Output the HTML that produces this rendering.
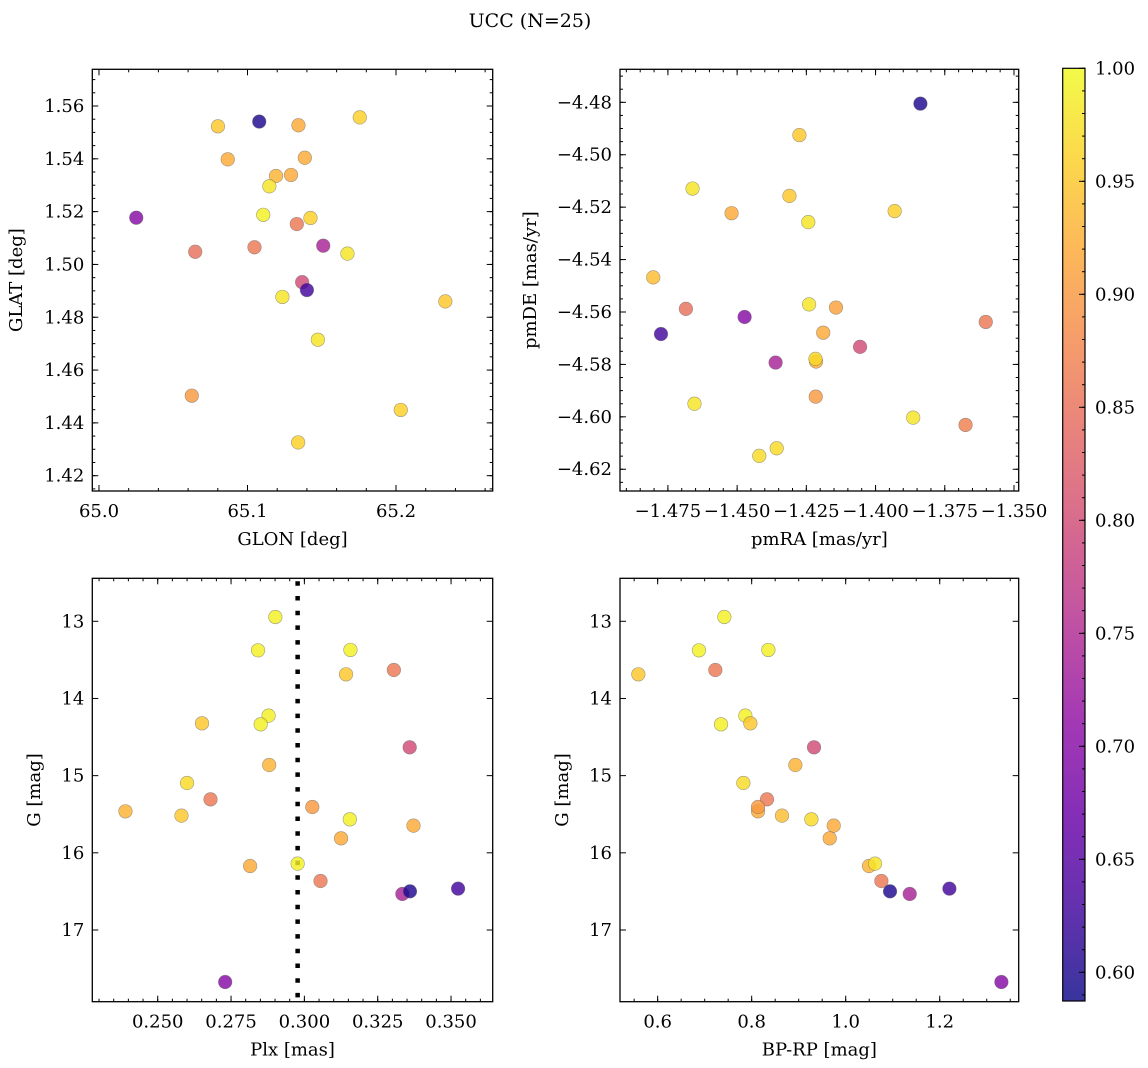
<!DOCTYPE html>
<html><head><meta charset="utf-8">
<style>
html,body{margin:0;padding:0;background:#fff;}
svg{display:block;font-family:"DejaVu Serif","Liberation Serif",serif;}
</style></head>
<body>
<svg id="fig" width="1148" height="1068" viewBox="0 0 1148 1068" xmlns="http://www.w3.org/2000/svg">
<text x="530" y="27" font-size="19" text-anchor="middle">UCC (N=25)</text>
</svg>
<script>
// ---- data ----
const glon = [65.0801,65.1079,65.1343,65.1756,65.0867,65.1386,65.1192,65.1293,65.1147,65.0251,65.1106,65.1424,65.1332,65.1510,65.1047,65.0648,65.1673,65.1368,65.1400,65.1235,65.2332,65.1474,65.0625,65.2032,65.1341];
const glat = [1.5523,1.5541,1.5527,1.5557,1.5398,1.5404,1.5335,1.5339,1.5296,1.5177,1.5188,1.5176,1.5153,1.5071,1.5065,1.5048,1.5041,1.4933,1.4903,1.4877,1.4860,1.4715,1.4503,1.4449,1.4326];
const probPos = [0.95,0.60,0.92,0.96,0.92,0.92,0.93,0.92,0.98,0.70,0.99,0.96,0.86,0.74,0.86,0.85,0.98,0.80,0.63,0.98,0.95,0.98,0.90,0.96,0.96];

const pmra = [-1.3838,-1.4275,-1.4661,-1.4311,-1.4520,-1.3931,-1.4243,-1.4803,-1.4685,-1.4240,-1.4143,-1.4473,-1.4775,-1.3602,-1.4189,-1.4056,-1.4361,-1.4215,-1.4217,-1.4216,-1.4654,-1.3864,-1.3675,-1.4420,-1.4357];
const pmde = [-4.4805,-4.4925,-4.5129,-4.5157,-4.5223,-4.5215,-4.5257,-4.5468,-4.5588,-4.5571,-4.5583,-4.5619,-4.5684,-4.5638,-4.5679,-4.5733,-4.5793,-4.5789,-4.5779,-4.5923,-4.5950,-4.6003,-4.6031,-4.6149,-4.6120];
const probPM = [0.60,0.95,0.98,0.95,0.92,0.96,0.98,0.94,0.85,0.98,0.91,0.70,0.63,0.86,0.92,0.80,0.74,0.92,0.97,0.90,0.98,0.98,0.87,0.97,0.97];

const plx = [0.2901,0.2842,0.3157,0.3142,0.3305,0.2878,0.2851,0.2651,0.3359,0.2880,0.2600,0.2680,0.2390,0.2581,0.3027,0.3155,0.3372,0.3125,0.2815,0.2977,0.3055,0.3334,0.3360,0.3524,0.2730];
const bprp = [0.7418,0.6879,0.8355,0.5589,0.7227,0.7865,0.7348,0.7972,0.9326,0.8929,0.7823,0.8326,0.8135,0.8645,0.8135,0.9270,0.9745,0.9660,1.0496,1.0624,1.0759,1.1362,1.0943,1.2206,1.3312];
const gmag = [12.944,13.376,13.371,13.687,13.631,14.222,14.335,14.322,14.633,14.862,15.095,15.307,15.462,15.518,15.406,15.566,15.648,15.812,16.171,16.140,16.365,16.533,16.499,16.464,17.674];
const probPhot = [0.99,0.99,0.99,0.95,0.86,0.99,0.99,0.95,0.80,0.93,0.97,0.86,0.93,0.95,0.90,0.99,0.92,0.92,0.92,0.99,0.86,0.74,0.60,0.63,0.70];
const probCMD = [0.99,0.99,0.99,0.95,0.86,0.99,0.99,0.95,0.80,0.93,0.97,0.86,0.92,0.94,0.90,0.97,0.92,0.92,0.93,0.98,0.86,0.74,0.60,0.63,0.70];
const plxMean = [0.2977];

const ticksGLON = [65.0,65.1,65.2];
const ticksGLAT = [1.42,1.44,1.46,1.48,1.50,1.52,1.54,1.56];
const ticksPMRA = [-1.475,-1.450,-1.425,-1.400,-1.375,-1.350];
const ticksPMDE = [-4.62,-4.60,-4.58,-4.56,-4.54,-4.52,-4.50,-4.48];
const ticksPLX = [0.250,0.275,0.300,0.325,0.350];
const ticksBPRP = [0.6,0.8,1.0,1.2];
const ticksG = [13,14,15,16,17];
const ticksCB = [0.60,0.65,0.70,0.75,0.80,0.85,0.90,0.95,1.00];
const cbRange = [0.5873,1.0];

// ---- helpers ----
const NS="http://www.w3.org/2000/svg";
const svg=document.getElementById('fig');
const FS=18;
function mk(tag,attrs,parent){const e=document.createElementNS(NS,tag);for(const k in attrs)e.setAttribute(k,attrs[k]);(parent||svg).appendChild(e);return e;}
const plasmaStops=[[13,8,135],[65,4,157],[106,0,168],[143,13,164],[177,42,144],[204,71,120],[225,100,98],[242,132,75],[252,166,54],[252,206,37],[240,249,33]];
function plasma(t){t=Math.max(0,Math.min(1,t));const s=t*10;const i=Math.min(9,Math.floor(s));const f=s-i;const a=plasmaStops[i],b=plasmaStops[i+1];
 return 'rgb('+a.map((v,k)=>Math.round(v+(b[k]-v)*f)).join(',')+')';}
function cnorm(p){return (p-cbRange[0])/(cbRange[1]-cbRange[0]);}

function panel(o){
  const g=mk('g',{});
  
  
  const sx=v=>o.L+(v-o.x0)/(o.x1-o.x0)*(o.R-o.L);
  const sy=v=>o.B-(v-o.y0)/(o.y1-o.y0)*(o.B-o.T);
  const tg=mk('g',{stroke:'#000','stroke-width':1},g);
  
  
  const eps=1e-9;
  for(let v=Math.ceil(o.x0/o.xm-eps)*o.xm; v<=o.x1+eps; v+=o.xm){const x=sx(v);
    mk('line',{x1:x,x2:x,y1:o.B,y2:o.B-3},tg);mk('line',{x1:x,x2:x,y1:o.T,y2:o.T+3},tg);}
  for(let v=Math.ceil(o.y0/o.ym-eps)*o.ym; v<=o.y1+eps; v+=o.ym){const y=sy(v);
    mk('line',{x1:o.L,x2:o.L+3,y1:y,y2:y},tg);mk('line',{x1:o.R,x2:o.R-3,y1:y,y2:y},tg);}
  o.xt.forEach(v=>{const x=sx(v);
    mk('line',{x1:x,x2:x,y1:o.B,y2:o.B-6},tg);mk('line',{x1:x,x2:x,y1:o.T,y2:o.T+6},tg);
    const t=mk('text',{x:x,y:o.B+26,'font-size':FS,'text-anchor':'middle'},g);
    t.textContent=(v<0?'\u2212':'')+Math.abs(v).toFixed(o.xd);
    
    });
  o.yt.forEach(v=>{const y=sy(v);
    mk('line',{x1:o.L,x2:o.L+6,y1:y,y2:y},tg);mk('line',{x1:o.R,x2:o.R-6,y1:y,y2:y},tg);
    const t=mk('text',{x:o.L-8,y:y+6,'font-size':FS,'text-anchor':'end'},g);
    t.textContent=(v<0?'\u2212':'')+Math.abs(v).toFixed(o.yd);
    
    });
  if(o.vline){const x=sx(o.vline[0]);
    const l=mk('line',{x1:x,x2:x,y1:o.T+3,y2:o.B,stroke:'#000','stroke-width':4.5,'stroke-dasharray':'4.5 10.2'},g);
    
    }
  const pg=mk('g',{},g);
  
  
  o.xs.forEach((xv,i)=>{
    const c=mk('circle',{cx:sx(xv),cy:sy(o.ys[i]),r:6.8,fill:plasma(cnorm(o.c[i])),'fill-opacity':0.82,stroke:'#666','stroke-opacity':0.6,'stroke-width':0.6},pg);
    
    });
  const f=mk('rect',{x:o.L,y:o.T,width:o.R-o.L,height:o.B-o.T,fill:'none',stroke:'#000','stroke-width':1.3},g);
  
  
  const xl=mk('text',{x:(o.L+o.R)/2,y:o.B+54,'font-size':FS,'text-anchor':'middle'},g);
  xl.textContent=o.xlab;
  
  
  const cy=(o.T+o.B)/2;
  const yl=mk('text',{x:o.ylx,y:cy,'font-size':FS,'text-anchor':'middle',transform:'rotate(-90 '+o.ylx+' '+cy+')'},g);
  yl.textContent=o.ylab;
  
  
}

panel({name:'position-panel',L:92.3,R:492.7,T:69.3,B:491,x0:64.9955,x1:65.2651,y0:1.4142,y1:1.5739,
  xm:0.02,ym:0.005,xt:ticksGLON,yt:ticksGLAT,xd:1,yd:2,xs:glon,ys:glat,c:probPos,xlab:'GLON [deg]',ylab:'GLAT [deg]',ylx:22});
panel({name:'proper-motion-panel',L:620,R:1018.7,T:69.3,B:491,x0:-1.4923,x1:-1.3483,y0:-4.6283,y1:-4.4674,
  xm:0.005,ym:0.005,xt:ticksPMRA,yt:ticksPMDE,xd:3,yd:2,xs:pmra,ys:pmde,c:probPM,xlab:'pmRA [mas/yr]',ylab:'pmDE [mas/yr]',ylx:536});
panel({name:'parallax-panel',L:92.3,R:492.7,T:578.3,B:1001.7,x0:0.2277,x1:0.3642,y0:17.929,y1:12.443,
  xm:0.005,ym:0.2,xt:ticksPLX,yt:ticksG,xd:3,yd:0,xs:plx,ys:gmag,c:probPhot,xlab:'Plx [mas]',ylab:'G [mag]',ylx:40,vline:plxMean});
panel({name:'cmd-panel',L:620,R:1018.7,T:578.3,B:1001.7,x0:0.5199,x1:1.368,y0:17.929,y1:12.443,
  xm:0.05,ym:0.2,xt:ticksBPRP,yt:ticksG,xd:1,yd:0,xs:bprp,ys:gmag,c:probCMD,xlab:'BP-RP [mag]',ylab:'G [mag]',ylx:568});

// colorbar
(function(){
  const L=1062.7,R=1085,T=68.3,B=1001;
  const g=mk('g',{});
  
  
  const defs=mk('defs',{},g);
  const lg=mk('linearGradient',{id:'cbg',x1:0,y1:1,x2:0,y2:0},defs);
  for(let k=0;k<=20;k++){const f=k/20;mk('stop',{offset:f,'stop-color':plasma(f),'stop-opacity':0.82},lg);}
  const r=mk('rect',{x:L,y:T,width:R-L,height:B-T,fill:'url(#cbg)',stroke:'#000','stroke-width':1.2},g);
  
  
  const sy=v=>B-(v-cbRange[0])/(cbRange[1]-cbRange[0])*(B-T);
  for(let v=0.59;v<=1.0001;v+=0.01){const y=sy(v);mk('line',{x1:R,x2:R-3,y1:y,y2:y,stroke:'#000','stroke-width':1},g);}
  ticksCB.forEach(v=>{const y=sy(v);
    mk('line',{x1:R,x2:R-6,y1:y,y2:y,stroke:'#000','stroke-width':1},g);
    const t=mk('text',{x:R+10,y:y+6,'font-size':FS},g);
    t.textContent=v.toFixed(2);
    
    });
})();
</script>
</body></html>
